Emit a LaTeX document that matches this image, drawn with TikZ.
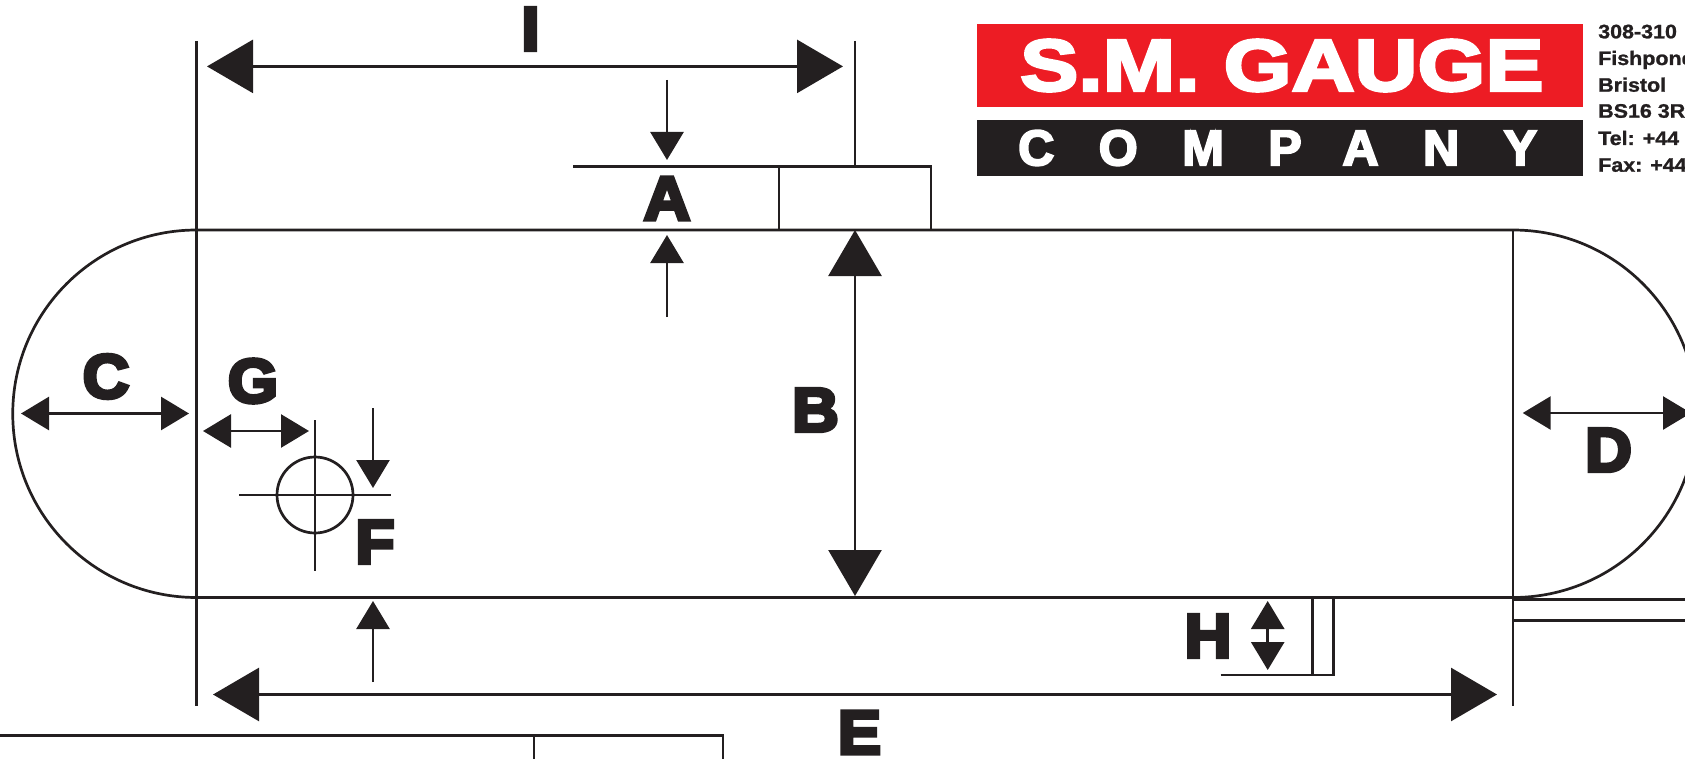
\documentclass[tikz,border=0pt]{standalone}
\usepackage{fontspec}
\usepackage{xcolor}
\usetikzlibrary{arrows.meta}
\setmainfont{Liberation Sans}
\newfontfamily\heavyfont[UprightFont={* Bold},FakeBold=6,FakeStretch=1.04]{Liberation Sans}
\newfontfamily\wordfont[UprightFont={* Bold},FakeBold=4,FakeStretch=1.195]{Liberation Sans}
\newfontfamily\spacedfont[UprightFont={* Bold},FakeBold=4,LetterSpace=89]{Liberation Sans}
\newfontfamily\addressfont[UprightFont={* Bold},FakeBold=1.2,FakeStretch=1.1]{Liberation Sans}
\definecolor{inkblack}{HTML}{231F20}
\definecolor{logored}{HTML}{ED1C24}

\begin{document}
\begin{tikzpicture}[x=1pt,y=-1pt]
    \tikzset{part/.style = {draw=inkblack,line width=2.7pt}}
    \tikzset{bigdim/.style = {draw=inkblack,line width=2.7pt,{Triangle[length=46pt,width=53pt]}-{Triangle[length=46pt,width=53pt]}}}
    \tikzset{smalldim/.style = {draw=inkblack,line width=2.7pt,{Triangle[length=28pt,width=33pt]}-{Triangle[length=28pt,width=33pt]}}}
    \tikzset{smalltip/.style = {draw=inkblack,line width=2.7pt,-{Triangle[length=28pt,width=33pt]}}}
    \tikzset{dimlabel/.style = {text=inkblack,inner sep=0pt,font=\heavyfont\fontsize{62}{62}\selectfont}}
    \tikzset{address/.style = {text=inkblack,inner sep=0pt,anchor=base west,font=\addressfont\fontsize{19.5}{20}\selectfont}}
    \path[use as bounding box,clip] (0,0) rectangle (1685,759);
    % outline
    \coordinate (tl) at (196.5,230);
    \coordinate (tr) at (1513,230);
    \coordinate (bl) at (196.5,597.5);
    \coordinate (br) at (1513,597.5);
    \draw[part] (tl) -- (tr) arc[start angle=-90,end angle=90,radius=183.75] (br) -- (bl) arc[start angle=90,end angle=270,radius=183.75];
    % extension lines
    \coordinate (leftup) at (196.5,41);
    \coordinate (leftdown) at (196.5,706);
    \coordinate (rightdown) at (1513,706);
    \coordinate (stubtop) at (855,41);
    \coordinate (stubfoot) at (855,166.7);
    \coordinate (aleft) at (573,166.7);
    \draw[part] (leftup) -- (leftdown);
    \draw[part] (tr) -- (rightdown);
    \draw[part] (stubtop) -- (stubfoot);
    \draw[part] (aleft) -- (stubfoot);
    % parts on the edge
    \draw[part] (779,166.7) rectangle (931,230);
    \draw[part] (1220.6,675) -- (1333.6,675) -- (1333.6,597.5);
    \draw[part] (1312.4,597.5) -- (1312.4,675);
    \draw[part] (1513,599.3) -- (1685,599.3);
    \draw[part] (1513,620.3) -- (1685,620.3);
    \draw[part] (0,735.5) -- (723,735.5) -- (723,759);
    \draw[part] (534,735.5) -- (534,759);
    % hole
    \coordinate (hole) at (315,495);
    \draw[part] (hole) circle[radius=38];
    \draw[part] (315,420) -- (315,571);
    \draw[part] (239,495) -- (391,495);
    % big dimensions
    \coordinate (ileft) at (207,66.4);
    \coordinate (iright) at (843,66.4);
    \coordinate (btop) at (855,230);
    \coordinate (bbot) at (855,596);
    \coordinate (eleft) at (213,694.5);
    \coordinate (eright) at (1497,694.5);
    \draw[bigdim] (ileft) -- (iright);
    \draw[bigdim] (btop) -- (bbot);
    \draw[bigdim] (eleft) -- (eright);
    % small dimensions
    \coordinate (cleft) at (21,413.5);
    \coordinate (cright) at (189,413.5);
    \coordinate (gleft) at (203,431);
    \coordinate (gright) at (309,431);
    \coordinate (dleft) at (1522.7,413);
    \coordinate (dright) at (1691,413);
    \coordinate (htop) at (1267.7,601);
    \coordinate (hbot) at (1267.7,670);
    \draw[smalldim] (cleft) -- (cright);
    \draw[smalldim] (gleft) -- (gright);
    \draw[smalldim] (dleft) -- (dright);
    \draw[smalldim] (htop) -- (hbot);
    % single arrows
    \draw[smalltip] (667,80) -- (667,160);
    \draw[smalltip] (667,317) -- (667,235);
    \draw[smalltip] (373,408) -- (373,488);
    \draw[smalltip] (373,682) -- (373,601);
    % letters
    \node[dimlabel] (labelI) at (530.5,29) {I};
    \node[dimlabel] (labelA) at (667,198.5) {A};
    \node[dimlabel] (labelB) at (815.5,410) {B};
    \node[dimlabel] (labelC) at (106,376.5) {C};
    \node[dimlabel] (labelD) at (1608.5,450) {D};
    \node[dimlabel] (labelE) at (859.5,732.5) {E};
    \node[dimlabel] (labelF) at (375,542) {F};
    \node[dimlabel] (labelG) at (253,381) {G};
    \node[dimlabel] (labelH) at (1208,636) {H};
    % logo
    \fill[logored] (977,24) rectangle (1583,107.5);
    \fill[inkblack] (977,120) rectangle (1583,176);
    \node[text=white,inner sep=0pt,anchor=west,font=\wordfont\fontsize{73}{73}\selectfont] (gauge) at (1020,65.5) {S.M. GAUGE};
    \node[text=white,inner sep=0pt,anchor=west,font=\spacedfont\fontsize{50}{50}\selectfont] (company) at (1018,148) {COMPANY};
    % address
    \node[address] (street) at (1598,38.3) {308-310};
    \node[address] (road) at (1598,65) {Fishpond};
    \node[address] (city) at (1598,91.7) {Bristol};
    \node[address] (post) at (1598,117.7) {BS16 3R};
    \node[address] (tel) at (1598,145) {Tel: +44};
    \node[address] (fax) at (1598,171.7) {Fax: +44};
\end{tikzpicture}
\end{document}
